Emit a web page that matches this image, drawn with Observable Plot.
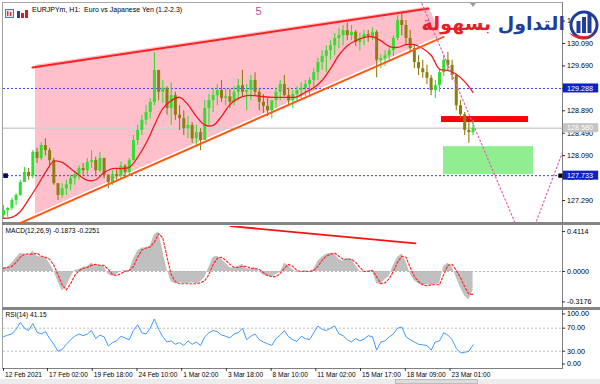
<!DOCTYPE html>
<html><head><meta charset="utf-8">
<script src="https://cdn.jsdelivr.net/npm/d3@7"></script>
<script src="https://cdn.jsdelivr.net/npm/@observablehq/plot@0.6"></script>
<style>
html,body{margin:0;padding:0;background:#fff;}
#wrap{position:relative;width:600px;height:384px;overflow:hidden;background:#fff;font-family:'Liberation Sans',Arial,sans-serif;}
</style></head>
<body><div id="wrap"></div>
<script>
// ---------- DATA ----------
const STEP = 6;      // hours per drawn candle
const MA_STEP = 12;  // hours between moving-average samples
const opens = [127.02,127.11,127.15,127.29,127.38,127.61,127.79,127.72,128.15,128.04,
128.27,128.18,128.00,127.59,127.38,127.50,127.57,127.68,127.75,127.86,
127.82,127.97,128.00,127.82,128.04,127.74,127.61,127.75,127.72,127.90,
127.79,128.00,128.36,128.54,128.72,128.86,129.04,129.61,129.22,129.29,
128.93,129.16,128.81,128.75,128.57,128.63,128.39,128.50,128.36,128.93,
129.07,129.16,129.25,129.11,129.14,129.04,129.22,129.34,129.22,129.25,
129.43,129.22,129.04,128.97,128.89,129.07,129.22,129.36,129.16,129.07,
129.18,129.25,129.29,129.36,129.43,129.57,129.75,129.86,129.96,130.05,
130.18,130.23,130.32,130.23,130.29,130.11,130.18,130.25,130.21,130.29,
129.79,129.82,129.87,129.96,130.18,130.50,130.41,130.18,130.00,129.75,
129.64,129.57,129.47,129.25,129.34,129.57,129.79,129.70,129.52,128.98,
128.82,128.54,128.50];
const closes = [127.11,127.15,127.29,127.38,127.61,127.79,127.72,128.15,128.04,128.27,
128.18,128.00,127.59,127.38,127.50,127.57,127.68,127.75,127.86,127.82,
127.97,128.00,127.82,128.04,127.74,127.61,127.75,127.72,127.90,127.79,
128.00,128.36,128.54,128.72,128.86,129.04,129.61,129.22,129.29,128.93,
129.16,128.81,128.75,128.57,128.63,128.39,128.50,128.36,128.93,129.07,
129.16,129.25,129.11,129.14,129.04,129.22,129.34,129.22,129.25,129.43,
129.22,129.04,128.97,128.89,129.07,129.22,129.36,129.16,129.07,129.18,
129.25,129.29,129.36,129.43,129.57,129.75,129.86,129.96,130.05,130.18,
130.23,130.32,130.23,130.29,130.11,130.18,130.25,130.21,130.29,129.79,
129.82,129.87,129.96,130.18,130.50,130.41,130.18,130.00,129.75,129.64,
129.57,129.47,129.25,129.34,129.57,129.79,129.70,129.52,128.98,128.82,
128.54,128.50,128.58];
const highs = [127.20,127.16,127.33,127.41,127.65,127.88,127.86,128.18,128.22,128.32,
128.39,128.22,128.04,127.59,127.59,127.65,127.74,127.79,127.91,127.95,
128.04,128.18,128.06,128.15,128.04,127.75,127.82,127.86,127.97,127.93,
128.04,128.45,128.63,128.81,128.98,129.11,129.93,129.57,129.43,129.32,
129.39,129.22,128.98,128.89,128.79,128.68,128.63,128.57,129.07,129.18,
129.29,129.36,129.43,129.29,129.27,129.32,129.45,129.61,129.36,129.52,
129.57,129.29,129.18,129.11,129.04,129.29,129.43,129.52,129.29,129.25,
129.32,129.39,129.43,129.48,129.64,129.82,129.96,130.05,130.14,130.27,
130.36,130.41,130.46,130.41,130.32,130.27,130.32,130.32,130.37,130.32,
129.89,129.96,130.04,130.23,130.59,130.64,130.50,130.32,130.05,129.87,
129.79,129.70,129.52,129.43,129.64,129.87,129.93,129.79,129.54,129.07,
128.86,128.68,128.72];
const lows = [126.97,126.99,127.11,127.20,127.36,127.61,127.65,127.68,127.95,128.00,
128.09,127.91,127.56,127.29,127.33,127.38,127.47,127.56,127.65,127.72,
127.74,127.86,127.74,127.79,127.68,127.50,127.56,127.65,127.68,127.68,
127.74,128.00,128.27,128.45,128.63,128.75,128.98,129.07,129.02,128.81,
128.63,128.72,128.54,128.45,128.39,128.31,128.27,128.18,128.36,128.63,
128.86,128.98,129.04,128.97,128.93,128.98,129.07,129.14,128.89,129.07,
129.14,128.89,128.84,128.79,128.75,128.93,129.07,129.14,128.97,128.93,
129.05,129.11,129.14,129.16,129.25,129.43,129.61,129.57,129.79,129.87,
130.00,130.05,130.14,130.14,130.04,129.96,130.05,130.11,130.14,129.48,
129.64,129.68,129.75,129.86,130.14,130.23,130.05,129.93,129.64,129.52,
129.47,129.36,129.16,129.11,129.22,129.50,129.61,129.43,128.89,128.75,
128.45,128.31,128.45];
const maValues = [126.97,126.99,127.09,127.31,127.54,127.79,127.99,127.97,127.86,127.74,
127.65,127.66,127.79,127.86,127.86,127.88,128.06,128.31,128.63,128.93,
129.07,129.13,129.00,128.79,128.64,128.63,128.79,129.00,129.11,129.16,
129.16,129.14,129.13,129.13,129.13,129.14,129.22,129.30,129.43,129.64,
129.88,130.05,130.14,130.20,130.21,130.14,130.04,130.02,130.07,130.07,
130.00,129.88,129.63,129.61,129.54,129.41,129.22];
const macdMain = [0.04,0.04,0.08,0.13,0.18,0.17,0.15,0.20,0.15,0.14,
0.14,0.08,0.01,-0.10,-0.19,-0.15,-0.06,0.01,0.02,0.04,
0.05,0.08,0.06,0.06,0.05,-0.03,-0.05,-0.03,0.00,0.01,
0.01,0.12,0.20,0.23,0.23,0.25,0.36,0.39,0.20,0.02,
-0.10,-0.12,-0.11,-0.12,-0.12,-0.11,-0.12,-0.10,-0.06,0.04,
0.14,0.15,0.12,0.08,0.04,0.03,0.05,0.07,0.03,0.02,
0.04,0.00,-0.04,-0.05,-0.06,-0.03,-0.01,0.08,0.06,0.02,
-0.01,0.00,0.01,0.00,0.02,0.10,0.14,0.17,0.18,0.17,
0.12,0.10,0.13,0.12,0.06,0.00,-0.01,0.01,0.01,-0.12,
-0.13,-0.08,-0.05,0.06,0.14,0.17,0.10,-0.02,-0.09,-0.12,
-0.14,-0.13,-0.13,-0.13,-0.12,0.05,0.08,0.05,-0.06,-0.16,
-0.24,-0.28,-0.1873];
const macdSignal = [0.03,0.04,0.05,0.09,0.14,0.17,0.17,0.17,0.18,0.15,
0.14,0.12,0.06,-0.03,-0.13,-0.18,-0.12,-0.04,0.01,0.03,
0.04,0.06,0.07,0.06,0.06,0.02,-0.03,-0.04,-0.02,0.00,
0.01,0.05,0.14,0.21,0.23,0.24,0.29,0.37,0.33,0.14,
-0.03,-0.10,-0.12,-0.12,-0.12,-0.12,-0.12,-0.11,-0.09,-0.03,
0.07,0.13,0.14,0.11,0.07,0.04,0.04,0.05,0.05,0.03,
0.03,0.02,-0.01,-0.04,-0.05,-0.05,-0.02,0.03,0.07,0.05,
0.01,0.00,0.00,0.00,0.01,0.05,0.11,0.15,0.17,0.18,
0.15,0.12,0.12,0.12,0.09,0.04,0.00,0.00,0.01,-0.05,
-0.12,-0.11,-0.07,0.00,0.09,0.15,0.14,0.04,-0.05,-0.10,
-0.13,-0.14,-0.13,-0.13,-0.13,-0.03,0.06,0.07,0.01,-0.06,
-0.15,-0.22,-0.2251];
const rsiValues = [55,58,60,68,80,70,66,78,63,60,
64,52,42,30,33,42,50,56,60,57,
60,66,52,58,55,39,45,48,56,53,
50,66,76,62,60,70,86,68,55,46,
48,42,45,40,48,42,46,40,55,62,
66,64,58,56,53,60,62,70,50,56,
60,50,46,43,40,52,58,66,55,50,
47,56,52,50,62,74,68,66,70,74,
60,57,50,46,52,48,51,57,55,32,
46,48,55,60,70,72,55,50,46,42,
41,40,32,46,48,62,58,50,35,27,
28,30,41.15];
const timeTickBars = [0,63,127,191,255,319,383,447,511,575,639];
const timeTickLabels = ["12 Feb 2021","17 Feb 02:00","19 Feb 18:00","24 Feb 10:00","1 Mar 02:00","3 Mar 18:00","8 Mar 10:00","11 Mar 02:00","15 Mar 17:00","18 Mar 09:00","23 Mar 01:00"];
const priceTicks = [130.49,130.09,129.69,129.29,128.89,128.49,128.09,127.69,127.29];
const levelLines = [129.288, 127.733];
const lastPrice = 128.580;
const macdTicks = [0.4114, 0, -0.3176];
const rsiMidTicks = [70, 30];
const rsiTop = 100, rsiBottom = 0;
// drawn objects (bar index, price)
const wedgeBars = [45.8, 608.2, 628.3];
const wedgeTop = [129.70, 130.74, 130.23];
const wedgeBottom = [127.04, 130.13, 130.23];
const topLineBars = [41.5, 608.2], topLinePrices = [129.661, 130.713];
const lowLineBars = [0, 629.7], lowLinePrices = [126.756, 130.209];
const projBars = [598.9, 747.8, 800], projPrices = [130.80, 126.43, 128.15];
const greenZone = {x1: 629.7, x2: 758.5, y1: 127.75, y2: 128.25};
const redZone = {x1: 626.8, x2: 751.3, y1: 128.68, y2: 128.787};
const macdTrendBars = [324.9, 589.6], macdTrendValues = [0.445, 0.275];
const waveLabel = {bar: 365, p: 130.66, text: "5"};

// ---------- BUILD ----------
const BULL = "#2fe02f", BEAR = "#8e7d12";
const FONT = "'Liberation Sans', Arial, sans-serif";
const candles = opens.map((o, i) => ({bar: i * STEP, o, h: highs[i], l: lows[i], c: closes[i]}));
const col = d => d.c >= d.o ? BULL : BEAR;
const ma = maValues.map((v, i) => ({bar: i * MA_STEP, v}));
const macd = macdMain.map((v, i) => ({bar: i * STEP, v, s: macdSignal[i]}));
const rsi = rsiValues.map((v, i) => ({bar: i * STEP, v}));
const wedge = wedgeBars.map((b, i) => ({bar: b, hi: wedgeTop[i], lo: wedgeBottom[i]}));
const topLine = topLineBars.map((b, i) => ({bar: b, p: topLinePrices[i]}));
const lowLine = lowLineBars.map((b, i) => ({bar: b, p: lowLinePrices[i]}));
const proj = projBars.map((b, i) => ({bar: b, p: projPrices[i]}));
const macdTrend = macdTrendBars.map((b, i) => ({bar: b, v: macdTrendValues[i]}));
const timeTicks = timeTickBars.map((b, i) => ({bar: b, label: timeTickLabels[i]}));

const common = {
  width: 600, height: 384, marginLeft: 3, marginRight: 38,
  x: {domain: [0, 800], axis: null},
  color: {type: "identity"},
  style: `position:absolute;left:0;top:0;background:transparent;overflow:visible;font-family:${FONT};`
};
const AX = 800, TICK_END = 804.3, BOX_L = 801.4, BOX_R = 851.8;
const axisText = (data, fmt, extra = {}) => Plot.text(data, {x: AX, y: d => d, text: fmt, dx: 4.5, textAnchor: "start", fontSize: 7.2, fill: "#000", ...extra});
const axisTick = (data, extra = {}) => Plot.ruleY(data, {x1: AX, x2: TICK_END, stroke: "#333", ...extra});

const main = Plot.plot({
  ...common, marginTop: 3, marginBottom: 160,
  y: {domain: [126.862, 130.803], axis: null},
  marks: [
    Plot.areaY(wedge, {x: "bar", y1: "lo", y2: "hi", fill: "#ffc0cb", clip: true}),
    Plot.ruleY([lastPrice], {x1: 0, x2: AX, stroke: "#d0d0d0", strokeWidth: 1.5}),
    Plot.ruleY(levelLines, {x1: 0, x2: AX, stroke: "#3e3ef2", strokeDasharray: "2,2"}),
    Plot.rect([greenZone], {x1: "x1", x2: "x2", y1: "y1", y2: "y2", fill: "#90ee90"}),
    Plot.rect([redZone], {x1: "x1", x2: "x2", y1: "y1", y2: "y2", fill: "#ff0000"}),
    Plot.ruleX(candles, {x: "bar", y1: "l", y2: "h", stroke: col, strokeWidth: 1.1}),
    Plot.ruleX(candles, {x: "bar", y1: "o", y2: "c", stroke: col, strokeWidth: 3}),
    Plot.line(ma, {x: "bar", y: "v", stroke: "#ee1c1c", strokeWidth: 1.3, curve: "catmull-rom"}),
    Plot.line(topLine, {x: "bar", y: "p", stroke: "#ff2020", strokeWidth: 2}),
    Plot.line(lowLine, {x: "bar", y: "p", stroke: "#ff5a14", strokeWidth: 2, clip: true}),
    Plot.line(proj, {x: "bar", y: "p", stroke: "#e060b4", strokeWidth: 1.2, strokeDasharray: "1.5,2.5", clip: true}),
    Plot.text([waveLabel], {x: "bar", y: "p", text: "text", fill: "#c8479a", fontSize: 11}),
    Plot.dot([{bar: 3, p: 127.733}], {x: "bar", y: "p", symbol: "square", r: 2.6, fill: "#000070"}),
    // right price axis
    axisTick(priceTicks),
    axisText(priceTicks, d => d.toFixed(3)),
    Plot.rect([lastPrice], {x1: BOX_L, x2: BOX_R, y1: d => d, y2: d => d, insetTop: -4.5, insetBottom: -4.5, fill: "#c4c4c4"}),
    axisText([lastPrice], d => d.toFixed(3), {fill: "#fff"}),
    Plot.rect(levelLines, {x1: BOX_L, x2: BOX_R, y1: d => d, y2: d => d, insetTop: -4.5, insetBottom: -4.5, fill: "#0b22c4"}),
    axisText(levelLines, d => d.toFixed(3), {fill: "#fff"}),
    Plot.dot([{bar: 797, p: 127.733}], {x: "bar", y: "p", symbol: "square", r: 2.4, fill: "#000"})
  ]
});

const macdPlot = Plot.plot({
  ...common, marginTop: 226, marginBottom: 76,
  y: {domain: [-0.3627, 0.4412], axis: null},
  marks: [
    Plot.areaY(macd, {x: "bar", y: "v", fill: "#c0c0c0"}),
    Plot.ruleY([0], {x1: 0, x2: AX, stroke: "#b4b4b4", strokeDasharray: "2,2"}),
    Plot.line(macd, {x: "bar", y: "s", stroke: "#ff2a2a", strokeWidth: 1.2, strokeDasharray: "2,2"}),
    Plot.line(macdTrend, {x: "bar", y: "v", stroke: "#ff1010", strokeWidth: 1.8, clip: true}),
    Plot.text(["MACD(12,26,9) -0.1873 -0.2251"], {frameAnchor: "top-left", dx: 2, dy: 4, lineAnchor: "middle", textAnchor: "start", fontSize: 6.6, fill: "#000"}),
    axisTick([macdTicks[0]], {dy: 2}), axisText([macdTicks[0]], d => d.toFixed(4), {dy: 2}),
    axisTick([macdTicks[1]]), axisText([macdTicks[1]], d => d.toFixed(4)),
    axisTick([macdTicks[2]], {dy: -2}), axisText([macdTicks[2]], d => d.toFixed(4), {dy: -2})
  ]
});

const rsiPlot = Plot.plot({
  ...common, marginTop: 310.4, marginBottom: 16,
  y: {domain: [0, 100], axis: null},
  marks: [
    Plot.ruleY(rsiMidTicks, {x1: 0, x2: AX, stroke: "#c0c0c0", strokeDasharray: "2,2"}),
    Plot.line(rsi, {x: "bar", y: "v", stroke: "#3d9bff", strokeWidth: 1}),
    Plot.text(["RSI(14) 41.15"], {frameAnchor: "top-left", dx: 2, dy: 4, lineAnchor: "middle", textAnchor: "start", fontSize: 6.6, fill: "#000"}),
    axisTick(rsiMidTicks), axisText(rsiMidTicks, d => d.toFixed(2)),
    axisTick([rsiTop], {dy: 3}), axisText([rsiTop], d => d.toFixed(2), {dy: 3}),
    axisTick([rsiBottom], {dy: -4.5}), axisText([rsiBottom], d => d.toFixed(2), {dy: -4.5}),
    Plot.ruleX(timeTicks, {x: "bar", y1: 0, y2: -5, stroke: "#333"}),
    Plot.text(timeTicks, {x: "bar", y: 0, text: "label", dx: 1.5, dy: 6.5, textAnchor: "start", fontSize: 6.6, fill: "#000"})
  ]
});

const wrap = document.getElementById("wrap");
function addDiv(css, html) { const d = document.createElement("div"); d.style.cssText = "position:absolute;" + css; if (html) d.innerHTML = html; wrap.appendChild(d); return d; }

// frame / window chrome (under the plots)
addDiv("left:2px;top:2px;width:561px;height:1px;background:#a8a8a8;");
addDiv("left:2px;top:2px;width:1px;height:367px;background:#a0a0a0;");
addDiv("left:2px;top:222px;width:598px;height:3px;background:#858585;");
addDiv("left:2px;top:307px;width:598px;height:3px;background:#858585;");
addDiv("left:562px;top:2px;width:1px;height:367px;background:#808080;");
addDiv("left:2px;top:368px;width:561px;height:1px;background:#808080;");
addDiv("left:0;top:379px;width:600px;height:5px;background:#ececec;");
addDiv("left:395px;top:379px;width:83px;height:5px;background:#dcdcdc;border:1px solid #bdbdbd;box-sizing:border-box;");
addDiv("left:470px;top:3px;width:0;height:0;border-left:3px solid transparent;border-right:3px solid transparent;border-top:4px solid #9a9a9a;");

wrap.appendChild(main);
wrap.appendChild(macdPlot);
wrap.appendChild(rsiPlot);

// title with icons
addDiv("left:5px;top:5px;", `<svg width="24" height="10"><rect x="0.5" y="0.5" width="8" height="8" fill="#dfe8f6" stroke="#5a78b0"/><rect x="2" y="2" width="1.4" height="5" fill="#e03030"/><rect x="5" y="3" width="1.4" height="4" fill="#e03030"/><rect x="12" y="2" width="3" height="7" fill="#2040c0"/><rect x="16" y="4" width="3" height="5" fill="#d02020"/><rect x="20" y="1" width="3" height="8" fill="#d02020"/></svg>`);
addDiv(`left:32px;top:5px;font:7px ${FONT};color:#000;white-space:nowrap;line-height:10px;`, "EURJPYm, H1:&nbsp; Euro vs Japanese Yen (1.2-2.3)");
// logo
addDiv("right:35px;top:11px;font:bold 19px 'DejaVu Sans',sans-serif;direction:rtl;white-space:nowrap;line-height:24px;", `<span style="color:#1f3f98">التداول</span> <span style="color:#e3222b">بسهولة</span>`);
addDiv("left:569px;top:9px;", `<svg width="31" height="36"><circle cx="15" cy="16" r="13" fill="#fff" stroke="#1f3d99" stroke-width="3"/><rect x="7.5" y="12" width="4" height="12" fill="#1f3d99"/><rect x="13" y="8" width="4" height="16" fill="#1f3d99"/><rect x="18.5" y="5" width="4" height="19" fill="#1f3d99"/><path d="M0 24 Q14 38 31 20 Q21 32 0 24Z" fill="#e0202a"/></svg>`);
</script>
</body></html>
